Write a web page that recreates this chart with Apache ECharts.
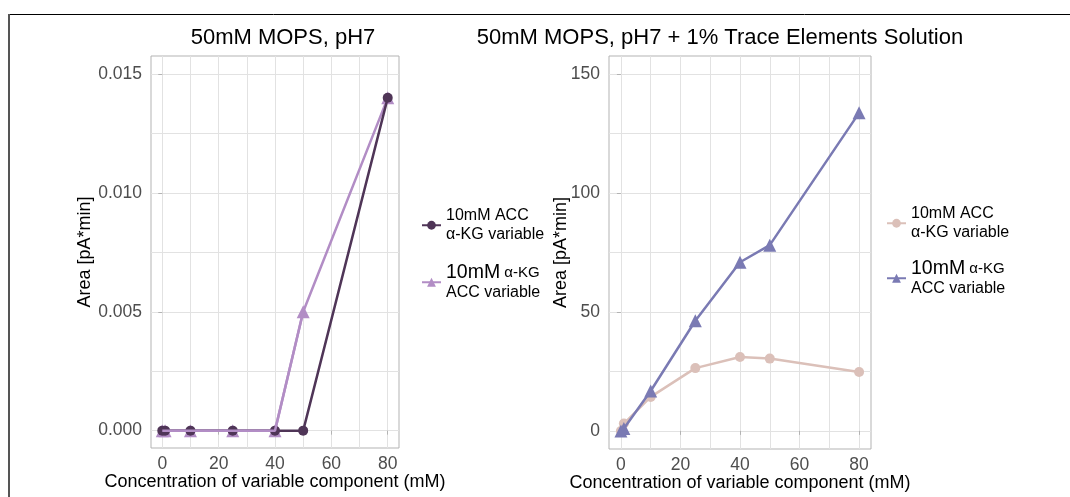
<!DOCTYPE html>
<html>
<head>
<meta charset="utf-8">
<script src="https://cdn.jsdelivr.net/npm/echarts@6/dist/echarts.min.js"></script>
<style>
html,body{margin:0;padding:0;background:#fff;}
#chart{width:1070px;height:497px;}
</style>
</head>
<body>
<div id="chart"></div>
<script>
// ---- data ----
const xVals = [0, 1, 10, 25, 40, 50, 80];
const xTickLabels = [0, 20, 40, 60, 80];
const xGridVals = [0, 10, 20, 30, 40, 50, 60, 70, 80];

// Left panel: 50mM MOPS, pH7
const leftAccFixed = [0, 0, 0, 0, 0, 0, 0.014];      // 10mM ACC, α-KG variable
const leftKgFixed  = [0, 0, 0, 0, 0, 0.005, 0.014];  // 10mM α-KG, ACC variable
const leftYTicks = [0, 0.005, 0.010, 0.015];
const leftYGrid = [0, 0.0025, 0.005, 0.0075, 0.010, 0.0125, 0.015];

// Right panel: + 1% Trace Elements Solution
const rightAccFixed = [0, 3.1, 14.3, 26.4, 31.1, 30.4, 24.8];
const rightKgFixed  = [0, 1.0, 16.8, 46.3, 70.9, 78.1, 133.7];
const rightYTicks = [0, 50, 100, 150];
const rightYGrid = [0, 25, 50, 75, 100, 125, 150];

const titles = ['50mM MOPS, pH7', '50mM MOPS, pH7 + 1% Trace Elements Solution'];
const xTitle = 'Concentration of variable component (mM)';
const yTitle = 'Area [pA*min]';
const nameA = '10mM ACC, α-KG variable';
const nameB = '10mM α-KG, ACC variable';
const nameA2 = '10mM ACC, α-KG variable ';
const nameB2 = '10mM α-KG, ACC variable ';

// ---- styling ----
const FONT = 'Liberation Sans, Arial, sans-serif';
const colDark = '#4f3557', colLight = '#b28dc5', colPink = '#dbc0b9', colBlue = '#7a7ab3';
const pairs = (xs, ys) => xs.map((x, i) => [x, ys[i]]);

function mainX(grid, min, max) {
  return {
    type: 'value', gridIndex: grid, min: min, max: max, minInterval: 10, maxInterval: 10,
    position: 'bottom',
    axisLine: {show: false},
    axisTick: {show: false, customValues: xGridVals},
    axisLabel: {customValues: xTickLabels, color: '#4d4d4d', fontSize: 17.5, fontFamily: FONT, margin: 7},
    splitLine: {show: true, lineStyle: {color: '#e2e2e2', width: 1}},
    name: xTitle, nameLocation: 'middle', nameGap: 25, nameMoveOverlap: false,
    nameTextStyle: {color: '#000', fontSize: 18, fontFamily: FONT}
  };
}
function tickX(grid, min, max) {
  return {
    type: 'value', gridIndex: grid, min: min, max: max, minInterval: 10, maxInterval: 10,
    position: 'bottom',
    axisLine: {show: false},
    axisTick: {show: true, customValues: xTickLabels, length: 4, lineStyle: {color: '#b3b3b3'}},
    axisLabel: {show: false},
    splitLine: {show: false}
  };
}
function mainY(grid, min, max, step, gridVals, ticks, fmt, gap) {
  return {
    type: 'value', gridIndex: grid, min: min, max: max, minInterval: step, maxInterval: step,
    position: 'left',
    axisLine: {show: false},
    axisTick: {show: false, customValues: gridVals},
    axisLabel: {customValues: ticks, color: '#4d4d4d', fontSize: 17.5, fontFamily: FONT, margin: 9, formatter: fmt},
    splitLine: {show: true, lineStyle: {color: '#e2e2e2', width: 1}},
    name: yTitle, nameLocation: 'middle', nameGap: gap, nameRotate: 90, nameMoveOverlap: false,
    nameTextStyle: {color: '#000', fontSize: 18, fontFamily: FONT}
  };
}
function tickY(grid, min, max, step, ticks) {
  return {
    type: 'value', gridIndex: grid, min: min, max: max, minInterval: step, maxInterval: step,
    position: 'left',
    axisLine: {show: false},
    axisTick: {show: true, customValues: ticks, length: 4, lineStyle: {color: '#b3b3b3'}},
    axisLabel: {show: false},
    splitLine: {show: false}
  };
}

const legendRich = {
  a: {fontSize: 16, lineHeight: 18.5, fontFamily: FONT, color: '#000'},
  big: {fontSize: 19.5, lineHeight: 20, fontFamily: FONT, color: '#000'},
  sm: {fontSize: 15, lineHeight: 20, fontFamily: FONT, color: '#000'}
};
function legendFmt(name) {
  if (name.trim() === nameA) return '{a|10mM ACC}\n{a|α-KG variable}';
  return '{big|10mM}{sm| α-KG}\n{a|ACC variable}';
}
function legend(name, left, top) {
  return {
    data: [name], left: left, top: top, orient: 'vertical', padding: 0,
    itemWidth: 19, itemHeight: 11, itemGap: 0, selectedMode: false,
    formatter: legendFmt,
    textStyle: {rich: legendRich, fontFamily: FONT, fontSize: 16}
  };
}

const lineW = 2.5;
const gridCommon = {show: true, borderColor: '#b3b3b3', borderWidth: 1, backgroundColor: 'transparent',
                    containLabel: false, outerBoundsMode: 'none'};
const option = {
  animation: false,
  backgroundColor: '#fff',
  title: [
    {text: titles[0], left: 283, top: 27, textAlign: 'center', padding: 0,
     textStyle: {fontSize: 22, fontWeight: 'normal', color: '#000', fontFamily: FONT}},
    {text: titles[1], left: 720, top: 27, textAlign: 'center', padding: 0,
     textStyle: {fontSize: 22, fontWeight: 'normal', color: '#000', fontFamily: FONT}}
  ],
  grid: [
    Object.assign({left: 151, top: 56, width: 248, height: 392}, gridCommon),
    Object.assign({left: 609, top: 56, width: 262, height: 393}, gridCommon)
  ],
  xAxis: [
    mainX(0, -4, 84), tickX(0, -4, 84),
    mainX(1, -4, 84), tickX(1, -4, 84)
  ],
  yAxis: [
    mainY(0, -0.00073, 0.01576, 0.0025, leftYGrid, leftYTicks, v => v.toFixed(3), 57),
    tickY(0, -0.00073, 0.01576, 0.0025, leftYTicks),
    mainY(1, -7.6, 157.6, 25, rightYGrid, rightYTicks, v => String(v), 39),
    tickY(1, -7.6, 157.6, 25, rightYTicks)
  ],
  legend: [
    legend(nameA, 421, 208),
    legend(nameB, 421, 263),
    legend(nameA2, 886, 206),
    legend(nameB2, 886, 259)
  ],
  series: [
    {name: nameB, type: 'line', xAxisIndex: 0, yAxisIndex: 0, z: 2,
     data: pairs(xVals, leftKgFixed), symbol: 'triangle', symbolSize: 13,
     itemStyle: {color: colLight}, lineStyle: {color: colLight, width: lineW}},
    {name: nameA, type: 'line', xAxisIndex: 0, yAxisIndex: 0, z: 3,
     data: pairs(xVals, leftAccFixed), symbol: 'circle', symbolSize: 10,
     itemStyle: {color: colDark}, lineStyle: {color: colDark, width: lineW}},
    {name: '_lightLine', type: 'line', xAxisIndex: 0, yAxisIndex: 0, z: 4, silent: true,
     data: pairs(xVals, leftKgFixed).slice(0, 6), showSymbol: false, symbol: 'none',
     lineStyle: {color: colLight, width: lineW}},
    {name: nameA2, type: 'line', xAxisIndex: 2, yAxisIndex: 2, z: 2,
     data: pairs(xVals, rightAccFixed), symbol: 'circle', symbolSize: 10,
     itemStyle: {color: colPink}, lineStyle: {color: colPink, width: lineW}},
    {name: nameB2, type: 'line', xAxisIndex: 2, yAxisIndex: 2, z: 3,
     data: pairs(xVals, rightKgFixed), symbol: 'triangle', symbolSize: 13,
     itemStyle: {color: colBlue}, lineStyle: {color: colBlue, width: lineW}}
  ],
  graphic: [
    {type: 'line', shape: {x1: 8, y1: 14.5, x2: 1070, y2: 14.5}, style: {stroke: '#000', lineWidth: 1}, silent: true},
    {type: 'line', shape: {x1: 9, y1: 14, x2: 9, y2: 497}, style: {stroke: '#555', lineWidth: 2}, silent: true}
  ]
};

const chart = echarts.init(document.getElementById('chart'), null, {renderer: 'canvas'});
chart.setOption(option);
</script>
</body>
</html>
